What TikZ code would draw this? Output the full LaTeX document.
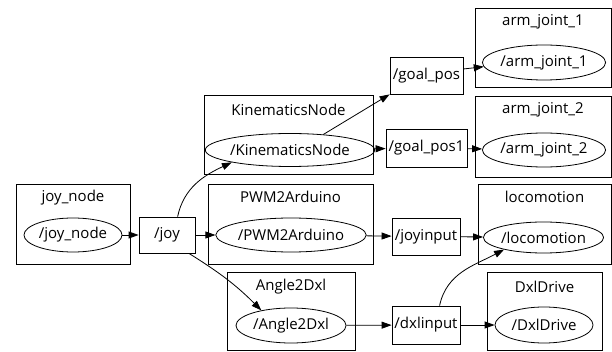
\documentclass[tikz,border=0pt]{standalone}
\usepackage{fontspec}
\setmainfont{Open Sans}
\usetikzlibrary{shapes.geometric,arrows.meta}
\begin{document}
\begin{tikzpicture}[x=1pt,y=-1pt,
  every node/.style={font=\fontsize{15}{17}\selectfont, inner sep=0pt},
  grp/.style={draw, line width=0.8pt, rectangle},
  ttl/.style={},
  nd/.style={draw, ellipse, line width=0.8pt},
  topic/.style={draw, rectangle, line width=0.8pt},
  edge/.style={line width=0.8pt, -{Triangle[length=10pt,width=7pt]}}]
\useasboundingbox (0,0) rectangle (612,352);
% group boxes
\node[grp, minimum width=114pt, minimum height=80pt] (gjoy) at (73,224) {};
\node[grp, minimum width=169pt, minimum height=79pt] (gkin) at (288.5,134.5) {};
\node[grp, minimum width=165pt, minimum height=80pt] (gpwm) at (290.5,224) {};
\node[grp, minimum width=128pt, minimum height=78pt] (gang) at (291,311) {};
\node[grp, minimum width=136pt, minimum height=79pt] (garm1) at (543,47.5) {};
\node[grp, minimum width=136pt, minimum height=81pt] (garm2) at (543,136.5) {};
\node[grp, minimum width=133pt, minimum height=80pt] (gloco) at (544.5,224) {};
\node[grp, minimum width=115pt, minimum height=78pt] (gdxl) at (544.5,311) {};
% titles
\node[ttl] (tjoy) at (73,198) {joy\_node};
\node[ttl] (tkin) at (288.5,110) {KinematicsNode};
\node[ttl] (tpwm) at (290.5,197) {PWM2Arduino};
\node[ttl] (tang) at (291,287) {Angle2Dxl};
\node[ttl] (tarm1) at (543,22) {arm\_joint\_1};
\node[ttl] (tarm2) at (543,110) {arm\_joint\_2};
\node[ttl] (tloco) at (544.5,197) {locomotion};
\node[ttl] (tdxl) at (544.5,287) {DxlDrive};
% ellipses
\node[nd, minimum width=98pt, minimum height=34pt] (joynode) at (73,235) {/joy\_node};
\node[nd, minimum width=154pt, minimum height=33pt] (kin) at (290,150) {/KinematicsNode};
\node[nd, minimum width=146pt, minimum height=34pt] (pwm) at (291,235) {/PWM2Arduino};
\node[nd, minimum width=110pt, minimum height=35pt] (ang) at (291,325.5) {/Angle2Dxl};
\node[nd, minimum width=120pt, minimum height=35pt] (arm1) at (544,62.5) {/arm\_joint\_1};
\node[nd, minimum width=120pt, minimum height=34pt] (arm2) at (544,150) {/arm\_joint\_2};
\node[nd, minimum width=113pt, minimum height=31pt] (loco) at (543.5,237.5) {/locomotion};
\node[nd, minimum width=98pt, minimum height=36pt] (dxld) at (544,325) {/DxlDrive};
% topics
\node[topic, minimum width=56pt, minimum height=36pt] (joy) at (167,235) {/joy};
\node[topic, minimum width=73pt, minimum height=37pt] (goal) at (426.5,75.5) {/goal\_pos};
\node[topic, minimum width=81pt, minimum height=38pt] (goal1) at (426.5,148) {/goal\_pos1};
\node[topic, minimum width=68pt, minimum height=37pt] (joyin) at (426,236.5) {/joyinput};
\node[topic, minimum width=68pt, minimum height=38pt] (dxlin) at (426,325) {/dxlinput};
% edges
\draw[edge] (joynode) -- (joy);
\draw[edge] (joy.60) to[out=78,in=205] (kin.192);
\draw[edge] (joy) -- (pwm);
\draw[edge] (joy.-40) to[out=-32,in=135] (ang.153);
\draw[edge] (kin.25) -- (goal.south west);
\draw[edge] (kin) -- (goal1);
\draw[edge] (goal.10) -- (arm1.184);
\draw[edge] (goal1) -- (arm2);
\draw[edge] (pwm) -- (joyin);
\draw[edge] (joyin) -- (loco);
\draw[edge] (ang) -- (dxlin);
\draw[edge] (dxlin) -- (dxld);
\draw[edge] (dxlin.55) to[out=78,in=208] (loco.197);
\end{tikzpicture}
\end{document}
